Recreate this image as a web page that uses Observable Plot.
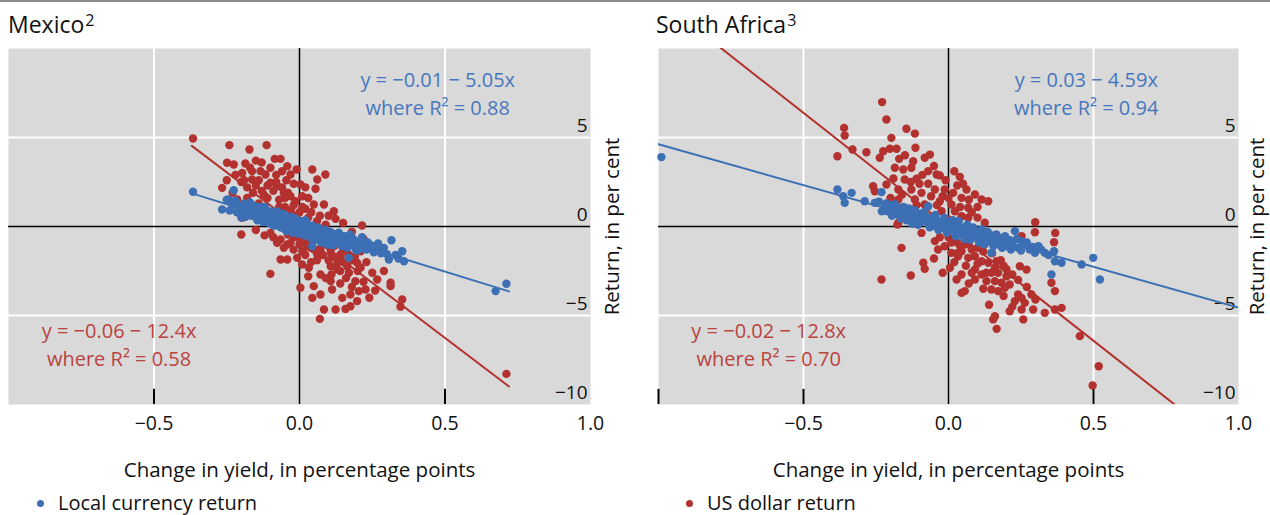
<!DOCTYPE html>
<html><head><meta charset="utf-8">
<script src="https://cdn.jsdelivr.net/npm/d3@7"></script>
<script src="https://cdn.jsdelivr.net/npm/@observablehq/plot@0.6"></script>
<style>
body{margin:0;background:#fff;font-family:"Open Sans",sans-serif;color:#111}
#root{position:relative;width:1270px;height:515px;overflow:hidden;background:#fff}
.topline{position:absolute;left:0;top:0;width:1270px;height:2px;background:#8c8c8c}
.title{position:absolute;top:11px;font-size:23px;line-height:27px;white-space:nowrap}
.title .sup{font-size:16px;position:relative;top:-7px;margin-left:1px}
.chart{position:absolute;top:40px}
.legend{position:absolute;top:490px;font-size:20px;line-height:26px;display:flex;align-items:center;white-space:nowrap}
.legend .sw{width:7px;height:7px;border-radius:50%;display:inline-block;margin-right:14px}
</style></head>
<body><div id="root">
<div class="topline"></div>
<div class="title" style="left:8px">Mexico<span class="sup">2</span></div>
<div class="title" style="left:656px">South Africa<span class="sup">3</span></div>
<div class="chart" id="left" style="left:0px"></div>
<div class="chart" id="right" style="left:640px"></div>
<div class="legend" style="left:37px"><span class="sw" style="background:#3c6fb4"></span>Local currency return</div>
<div class="legend" style="left:686px"><span class="sw" style="background:#b3312e"></span>US dollar return</div>
</div>
<script>
// ---- data (x = change in yield, pp; y = return, %) ----
const xTicks = [-0.5, 0, 0.5, 1.0];
const yTicks = [-10, -5, 0, 5];
const xLabel = "Change in yield, in percentage points";
const yLabel = "Return, in per cent";

const mexicoLocal = [
[-0.366,1.95],[-0.266,0.96],[-0.243,1.52],[-0.226,2.04],[-0.23,1.2],[-0.21,1.15],[-0.2,0.85],[-0.19,1.3],[-0.18,0.7],[-0.17,1.0],
[-0.165,0.6],[-0.16,0.9],[-0.15,0.55],[-0.145,0.95],[-0.14,0.4],[-0.135,0.75],[-0.13,0.5],[-0.125,0.9],[-0.12,0.3],[-0.115,0.65],
[-0.11,0.45],[-0.105,0.2],[-0.1,0.6],[-0.095,0.35],[-0.09,0.05],[-0.085,0.5],[-0.08,0.25],[-0.075,0.6],[-0.07,0.1],[-0.065,0.4],
[-0.06,0.2],[-0.055,-0.1],[-0.05,0.35],[-0.045,0.05],[-0.04,0.25],[-0.035,-0.15],[-0.03,0.2],[-0.025,0.0],[-0.02,0.3],[-0.015,-0.2],
[-0.01,0.1],[-0.005,-0.05],[0,0.15],[0.005,-0.25],[0.01,-0.05],[0.015,0.1],[0.02,-0.3],[0.025,-0.1],[0.03,-0.4],[0.035,0.0],
[0.04,-0.25],[0.045,-0.5],[0.05,-0.15],[0.055,-0.35],[0.06,-0.6],[0.065,-0.2],[0.07,-0.45],[0.075,-0.7],[0.08,-0.3],[0.085,-0.55],
[0.09,-0.2],[0.095,-0.75],[0.1,-0.45],[0.105,-0.65],[0.11,-0.9],[0.115,-0.4],[0.12,-0.7],[0.13,-0.55],[0.135,-0.95],[0.14,-0.75],
[0.15,-0.6],[0.155,-1.0],[0.16,-0.8],[0.175,-0.45],[0.169,-1.76],[0.18,-0.95],[0.19,-1.15],[0.2,-0.85],[0.21,-1.1],[0.221,-0.82],
[0.23,-1.3],[0.245,-1.05],[0.267,-1.25],[0.28,-1.5],[0.307,-1.85],[0.316,-0.77],[0.33,-1.6],[0.353,-1.39],[0.359,-1.95],[0.674,-3.63],
[0.711,-3.22],[0.044,-1.11],[-0.2,0.5],[-0.17,1.35],[-0.12,1.1],[-0.06,0.65],[-0.03,0.55],[0.02,0.35],[0.05,-0.75],[0.1,-1.0],
[-0.25,1.5],[-0.24,0.9],[-0.22,1.45],[-0.215,0.8],[-0.195,1.1],[-0.185,0.55],[-0.175,1.25],[-0.155,1.15],[-0.145,0.35],[-0.135,1.1],
[-0.125,0.25],[-0.115,0.95],[-0.105,0.75],[-0.095,0.85],[-0.085,0.05],[-0.075,0.85],[-0.065,-0.05],[-0.055,0.7],[-0.045,-0.25],[-0.035,0.5],
[-0.025,-0.35],[-0.015,0.45],[-0.005,-0.4],[0.005,0.3],[0.015,-0.5],[0.025,0.2],[0.035,-0.6],[0.045,0.05],[0.055,-0.75],[0.065,-0.05],
[0.075,-0.9],[0.085,-0.2],[0.095,-1.0],[0.105,-0.3],[0.115,-1.05],[0.125,-0.45],[0.135,-0.35],[0.145,-1.1],[0.155,-0.55],[0.165,-1.2],
[0.185,-0.7],[0.195,-1.35],[0.205,-1.3],[0.215,-0.6],[0.235,-0.9],[0.255,-1.45],[0.27,-0.95],[0.29,-1.2],[0.3,-1.55],[0.34,-1.8]
];
const mexicoUsd = [
[-0.366,4.94],[-0.241,4.57],[-0.172,4.33],[-0.113,4.57],[-0.085,3.80],[-0.065,3.80],[-0.042,3.39],[-0.249,3.58],[-0.226,3.48],[-0.186,3.54],
[-0.197,3.01],[-0.163,3.11],[-0.134,3.11],[-0.117,2.92],[-0.163,2.64],[-0.031,2.92],[0.044,3.20],[0.089,2.92],[0.061,2.64],[0.055,2.12],
[0.003,2.36],[-0.266,2.17],[-0.1,2.46],[-0.077,2.26],[-0.054,1.89],[-0.123,1.80],[-0.031,1.70],[-0.014,1.42],[0.009,1.70],[0.049,1.24],
[0.084,1.24],[0.118,0.86],[0.124,0.43],[0.215,0.06],[-0.214,1.52],[-0.197,0.49],[-0.200,-0.45],[-0.1,-0.36],[-0.065,-0.73],[-0.042,-1.01],
[0.026,-1.11],[0.072,-1.20],[0.107,-1.29],[0.061,-1.57],[0.141,-1.57],[0.210,-1.39],[-0.1,-2.66],[-0.065,-1.85],[-0.042,-1.85],[-0.008,-1.76],
[0.009,-2.13],[0.032,-2.32],[0.072,-2.70],[0.107,-2.23],[0.13,-2.04],[0.164,-2.23],[0.198,-2.04],[0.192,-3.07],[0.267,-2.98],[0.313,-3.16],
[0.313,-3.35],[0.107,-3.07],[0.112,-3.54],[0.049,-3.35],[0.003,-3.44],[0.072,-3.82],[0.044,-4.01],[0.147,-4.01],[0.175,-3.82],[0.204,-3.63],
[0.227,-3.54],[0.198,-4.19],[0.175,-4.48],[0.158,-4.63],[0.124,-4.66],[0.084,-4.66],[0.070,-5.19],[0.353,-4.10],[0.347,-4.51],[0.003,-0.73],
[-0.031,-0.92],[0.038,-1.20],[0.072,-1.39],[0.107,-1.48],[0.141,-1.67],[0.169,-1.57],[-0.054,-1.20],[-0.077,-0.92],[0.711,-8.28],
[-0.15,2.3],[-0.13,2.0],[-0.11,1.6],[-0.09,2.0],[-0.07,1.5],[-0.05,1.1],[-0.14,1.3],[-0.12,1.05],[-0.09,0.8],[-0.06,0.75],
[-0.03,0.9],[-0.02,2.4],[-0.045,2.6],[-0.08,2.9],[-0.01,0.6],[0.02,1.0],[0.03,0.5],[0.06,0.3],[0.09,0.1],[-0.18,2.2],
[-0.16,1.9],[-0.2,2.5],[-0.14,2.6],[-0.06,3.1],[-0.15,-0.2],[-0.12,-0.5],[-0.09,-0.6],[-0.02,-0.6],[0.02,-0.9],[0.05,-1.3],
[0.09,-1.0],[0.12,-1.1],[0.15,-1.3],[0.18,-1.9],[0.2,-2.5],[0.25,-2.6],[0.14,-2.5],[0.16,-2.9],[0.22,-3.1],[0.09,-2.9],
[0.03,-2.8],[0.24,-4.0],
[-0.04,-0.45],[0.0,-1.0],[0.01,-1.4],[0.04,-0.8],[0.06,-1.9],[0.08,-1.6],[0.1,-1.9],[0.12,-1.7],[0.13,-2.4],[0.15,-2.0],
[0.17,-2.6],[0.19,-1.7],[0.21,-2.3],[0.23,-2.0],[0.02,-1.6],[-0.02,-1.3],[0.04,-2.0],[0.11,-2.7],[0.14,-3.2],[0.18,-3.4],
[0.26,-3.6],[0.29,-2.5],[-0.22,2.9],[-0.19,2.6],[-0.17,3.3],[-0.15,3.7],[-0.13,3.6],[-0.1,3.3],[-0.11,2.3],[-0.08,2.5],
[-0.06,2.2],[-0.04,1.9],[-0.07,1.1],[-0.05,1.6],[-0.02,1.2],[0.01,1.1],[0.03,1.6],[0.0,0.8],[0.04,0.8],[0.07,0.6],
[-0.01,3.2],[0.02,2.2],[-0.23,1.9],[-0.25,2.6],[-0.16,0.9],[-0.18,1.6],[0.1,0.6],[0.15,0.2],[0.18,-0.3],[0.22,-0.7],[0.25,-1.1]
];
const southAfricaLocal = [
[-0.99,3.9],[-0.383,2.08],[-0.358,1.33],[-0.334,1.89],[-0.363,1.70],[-0.289,1.42],[-0.231,1.93],[-0.254,1.33],[-0.07,1.14],
[-0.22,1.1],[-0.21,0.85],[-0.2,1.2],[-0.19,0.9],[-0.18,0.7],[-0.17,1.05],[-0.16,0.75],[-0.15,0.55],[-0.14,0.9],[-0.13,0.6],
[-0.12,0.4],[-0.11,0.75],[-0.1,0.5],[-0.095,0.25],[-0.09,0.65],[-0.08,0.35],[-0.075,0.55],[-0.07,0.15],[-0.06,0.45],[-0.055,0.2],
[-0.05,0.05],[-0.045,0.4],[-0.04,0.15],[-0.03,-0.05],[-0.025,0.3],[-0.02,0.05],[-0.01,-0.15],[-0.005,0.25],[0,0.0],[0.005,-0.2],
[0.01,0.15],[0.02,-0.1],[0.025,-0.35],[0.03,0.05],[0.04,-0.2],[0.045,-0.45],[0.05,-0.05],[0.06,-0.3],[0.065,-0.55],[0.07,-0.15],
[0.08,-0.4],[0.09,-0.6],[0.095,-0.25],[0.1,-0.5],[0.11,-0.75],[0.12,-0.35],[0.13,-0.6],[0.14,-0.85],[0.15,-0.5],[0.16,-0.75],
[0.17,-1.0],[0.18,-0.65],[0.19,-0.9],[0.2,-1.1],[0.21,-0.75],[0.22,-1.0],[0.229,-0.26],[0.24,-1.2],[0.252,-0.82],[0.26,-1.05],
[0.28,-1.3],[0.298,-1.48],[0.31,-1.1],[0.332,-1.48],[0.364,-1.39],[0.367,-1.95],[0.390,-2.04],[0.459,-2.13],[0.499,-1.76],[0.522,-2.98],
[0.355,-2.70],[0.148,-1.48],
[-0.24,1.4],[-0.23,0.85],[-0.215,1.3],[-0.195,0.6],[-0.185,1.25],[-0.165,0.45],[-0.155,1.1],[-0.145,0.35],[-0.135,1.0],[-0.125,0.15],
[-0.115,0.9],[-0.105,0.1],[-0.085,0.8],[-0.065,-0.05],[-0.045,0.65],[-0.035,-0.2],[-0.015,0.5],[-0.005,-0.35],[0.015,0.35],[0.025,-0.55],
[0.035,0.3],[0.055,-0.7],[0.065,0.1],[0.075,-0.75],[0.085,-0.05],[0.105,-0.9],[0.115,-0.15],[0.125,-1.0],[0.135,-0.3],[0.155,-1.1],
[0.165,-0.45],[0.185,-1.2],[0.195,-0.55],[0.215,-1.3],[0.235,-0.7],[0.25,-1.35],[0.27,-0.9],[0.29,-1.15],[0.32,-1.3],[0.345,-1.6]
];
const southAfricaUsd = [
[-0.229,6.99],[-0.214,6.01],[-0.360,5.54],[-0.358,5.11],[-0.197,4.98],[-0.145,5.49],[-0.116,5.22],[-0.383,3.95],[-0.331,4.33],[-0.283,4.17],
[-0.225,4.23],[-0.202,4.37],[-0.179,4.37],[-0.237,3.86],[-0.114,4.42],[-0.082,3.86],[-0.064,4.04],[-0.122,3.67],[-0.185,3.30],[-0.156,3.20],
[-0.128,3.30],[-0.070,3.11],[-0.041,2.92],[-0.030,2.87],[0.039,2.79],[-0.151,2.64],[-0.110,2.68],[-0.260,2.26],[-0.254,1.98],[-0.214,2.36],
[-0.173,2.08],[-0.128,2.08],[-0.093,1.89],[-0.047,2.08],[-0.013,2.08],[0.016,1.89],[0.062,2.08],[0.091,1.80],[0.114,1.52],[0.137,1.42],
[0.045,1.61],[0.068,1.05],[-0.173,1.52],[-0.116,1.52],[-0.082,1.24],[-0.030,1.42],[0.010,1.24],[0.022,0.86],[-0.024,0.86],[0.045,0.58],
[0.068,0.49],[0.125,0.21],[-0.173,0.21],[-0.176,0.11],[-0.093,-0.36],[-0.162,-1.20],[-0.231,-2.98],[-0.130,-2.75],[-0.087,-2.04],[-0.082,-2.38],
[0.005,-2.32],[0.028,-2.98],[0.045,-2.70],[0.045,-3.73],[0.056,-3.63],[-0.047,-0.82],[-0.036,-1.29],[-0.013,-1.11],[0.010,-1.48],[0.045,-1.39],
[0.068,-1.76],[0.091,-1.67],[0.114,-1.95],[0.137,-2.04],[0.166,-1.95],[0.091,-2.42],[0.114,-2.70],[0.148,-2.60],[0.171,-2.60],[0.091,-2.98],
[0.131,-3.07],[0.160,-3.07],[0.183,-3.16],[0.211,-3.26],[0.148,-3.54],[0.171,-3.63],[0.194,-3.44],[0.240,-3.82],[0.252,-4.01],[0.229,-4.19],
[0.263,-4.29],[0.286,-3.82],[0.292,-4.66],[0.252,-4.66],[0.211,-4.76],[0.160,-5.04],[0.154,-5.22],[0.166,-5.75],[0.258,-5.22],[0.332,-4.85],
[0.367,-4.66],[0.390,-4.57],[0.246,-2.23],[0.269,-2.42],[0.298,-0.32],[0.364,-0.88],[0.355,-3.16],[0.367,-3.63],[0.033,-1.67],[0.252,-0.54],
[0.453,-6.16],[0.518,-7.85],[0.497,-8.93],[0.299,0.24],[0.368,-0.36],
[-0.14,1.0],[-0.1,0.7],[-0.06,0.5],[-0.06,1.7],[-0.02,1.7],[0.03,2.3],[-0.1,2.4],[-0.2,1.1],[-0.14,0.5],[0.0,0.4],
[0.08,0.8],[0.1,1.1],[0.0,-0.6],[0.03,-0.9],[0.06,-1.0],[0.08,-1.3],[0.12,-1.4],[0.02,-2.0],[0.06,-2.2],[0.1,-2.1],
[0.13,-2.6],[0.07,-3.2],[0.19,-2.2],[0.2,-2.8],[0.12,-3.5],[-0.05,-1.8],[-0.02,-2.6],
[-0.19,2.7],[-0.17,3.8],[-0.15,4.0],[-0.13,2.5],[-0.09,2.9],[-0.07,2.4],[-0.05,3.4],[-0.01,2.6],[0.02,3.1],[0.05,2.4],
[-0.11,1.2],[-0.08,0.6],[-0.04,1.2],[0.0,1.6],[0.04,1.1],[0.07,1.5],[0.1,0.5],[-0.16,1.8],[-0.2,1.6],[-0.12,0.2],
[0.01,-0.9],[0.04,-1.1],[0.07,-0.9],[0.1,-1.2],[0.15,-1.5],[0.18,-1.9],[0.2,-2.4],[0.22,-2.7],[0.24,-3.0],[0.27,-3.4],
[0.19,-3.9],[0.14,-4.4],[0.3,-4.1],[0.08,-2.6],[0.03,-1.5],[-0.03,-0.6],[0.16,-2.3],[0.22,-4.5]
];

// regression coefficients [intercept, slope] as printed, and fitted x-span
const mexicoLocalFit = [-0.01, -5.05];
const mexicoUsdFit = [-0.06, -12.4];
const southAfricaLocalFit = [0.03, -4.59];
const southAfricaUsdFit = [-0.02, -12.8];
const mexicoFitSpan = [-0.37, 0.72];
const southAfricaFitSpan = [-1, 1];

const mexicoLocalText = "y = −0.01 − 5.05x\nwhere R² = 0.88";
const mexicoUsdText = "y = −0.06 − 12.4x\nwhere R² = 0.58";
const southAfricaLocalText = "y = 0.03 − 4.59x\nwhere R² = 0.94";
const southAfricaUsdText = "y = −0.02 − 12.8x\nwhere R² = 0.70";

// ---- drawing ----
const RED = "#b3312e", BLUE = "#3c6fb4";
const RED_TXT = "#b8433f", BLUE_TXT = "#4677be";
const fitLine = (coef, span) => span.map(x => ({x, y: coef[0] + coef[1] * x}));

function panel({local, usd, localFit, usdFit, span, width, marginLeft, marginRight, bottomTicks, localText, usdText, yLabelDx}) {
  return Plot.plot({
    width, height: 445, marginLeft, marginRight, marginTop: 8, marginBottom: 81,
    x: {domain: [-1, 1]},
    y: {domain: [-10, 10]},
    style: {fontFamily: "'Open Sans', sans-serif", fontSize: "19px", color: "#111", background: "transparent", overflow: "visible"},
    marks: [
      Plot.frame({fill: "#d9d9d9", stroke: "none"}),
      Plot.gridX({ticks: [-0.5, 0.5], stroke: "white", strokeOpacity: 1, strokeWidth: 2}),
      Plot.gridY({ticks: [-5, 5], stroke: "white", strokeOpacity: 1, strokeWidth: 2}),
      Plot.ruleX([0], {stroke: "black", strokeWidth: 1.5}),
      Plot.ruleY([0], {stroke: "black", strokeWidth: 1.5}),
      Plot.ruleX(bottomTicks, {y1: -10, y2: -9.15, stroke: "black", strokeWidth: 2}),
      Plot.axisX({ticks: xTicks, tickSize: 0, tickPadding: 12, tickFormat: d3.format(".1f"), label: null, fontSize: 19.5}),
      Plot.axisY({anchor: "right", ticks: yTicks, tickSize: 0, tickPadding: 0, dx: -3, dy: -12, textAnchor: "end", tickFormat: d3.format("d"), label: null, fontSize: 19}),
      Plot.dot(usd, {x: d => d[0], y: d => d[1], r: 4.2, fill: RED}),
      Plot.line(fitLine(usdFit, span), {x: "x", y: "y", stroke: RED, strokeWidth: 2, clip: true}),
      Plot.dot(local, {x: d => d[0], y: d => d[1], r: 4.2, fill: BLUE}),
      Plot.line(fitLine(localFit, span), {x: "x", y: "y", stroke: BLUE, strokeWidth: 2, clip: true}),
      Plot.text([localText], {x: 0.475, y: 7.58, fill: BLUE_TXT, fontSize: 20, lineHeight: 1.4, textAnchor: "middle"}),
      Plot.text([usdText], {x: -0.62, y: -6.52, fill: RED_TXT, fontSize: 20, lineHeight: 1.4, textAnchor: "middle"}),
      Plot.text([xLabel], {frameAnchor: "bottom", dy: 66, lineAnchor: "middle", textAnchor: "middle", fontSize: 20.5, fill: "#111"}),
      Plot.text([yLabel], {frameAnchor: "right", dx: yLabelDx, rotate: -90, textAnchor: "middle", lineAnchor: "middle", fontSize: 20.5, fill: "#111"})
    ]
  });
}

document.getElementById("left").append(panel({
  local: mexicoLocal, usd: mexicoUsd, localFit: mexicoLocalFit, usdFit: mexicoUsdFit, span: mexicoFitSpan,
  width: 640, marginLeft: 8, marginRight: 50, bottomTicks: [-0.5, 0.5],
  localText: mexicoLocalText, usdText: mexicoUsdText, yLabelDx: 22
}));
document.getElementById("right").append(panel({
  local: southAfricaLocal, usd: southAfricaUsd, localFit: southAfricaLocalFit, usdFit: southAfricaUsdFit, span: southAfricaFitSpan,
  width: 630, marginLeft: 18, marginRight: 32, bottomTicks: [-1, -0.5, 0.5],
  localText: southAfricaLocalText, usdText: southAfricaUsdText, yLabelDx: 19
}));
</script>
</body></html>
